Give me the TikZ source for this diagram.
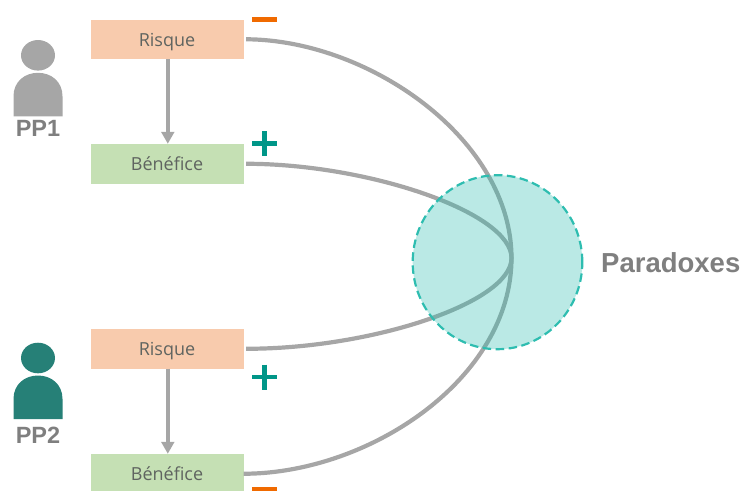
\documentclass[tikz,border=0pt]{standalone}
\usepackage{fontspec}
\setmainfont{Liberation Sans}
\newfontfamily\boxfont{Open Sans}
\usetikzlibrary{arrows.meta,shapes.geometric}
\definecolor{risk}{HTML}{F8CBAD}
\definecolor{gain}{HTML}{C5E0B4}
\definecolor{linegrey}{HTML}{A6A6A6}
\definecolor{labelgrey}{HTML}{7F7F7F}
\definecolor{boxtext}{HTML}{5F6460}
\definecolor{plusteal}{HTML}{009688}
\definecolor{minusorange}{HTML}{F06A00}
\definecolor{persongrey}{HTML}{A6A6A6}
\definecolor{personteal}{HTML}{268077}
\definecolor{circleteal}{HTML}{2EBDB0}
\tikzset{
  riskbox/.style={fill=risk,minimum width=153pt,minimum height=39.5pt,inner xsep=0pt,inner ysep=0pt,text height=13.5pt,text depth=0pt,text=boxtext,font=\boxfont\fontsize{18}{20}\selectfont},
  gainbox/.style={riskbox,fill=gain},
  flow/.style={draw=linegrey,line width=4pt,-{Triangle[length=12pt,width=12.7pt]}},
  curve/.style={draw=linegrey,line width=4.2pt,shorten <=2.5pt},
  ppname/.style={text=labelgrey,font=\bfseries\fontsize{23.5}{26}\selectfont,inner sep=0pt},
  plussign/.style={draw=plusteal,line width=4.5pt},
  minussign/.style={fill=minusorange,draw=none}
}
\newcommand{\personshape}[3]{%
  \fill[#3] (#1,#2) ellipse (17pt and 15.3pt);
  \fill[#3] (#1-24.5,#2+61) -- (#1-24.5,#2+41) .. controls (#1-24.5,#2+26) and (#1-13,#2+17.5) .. (#1,#2+17.5) .. controls (#1+13,#2+17.5) and (#1+24.5,#2+26) .. (#1+24.5,#2+41) -- (#1+24.5,#2+61) -- cycle;
}
\begin{document}
\begin{tikzpicture}[x=1pt,y=-1pt]
\useasboundingbox (0,0) rectangle (743,490);
\clip (0,0) rectangle (743,490);
\node[riskbox] (r1) at (167,39.25) {Risque};
\node[gainbox] (b1) at (167,163.75) {Bénéfice};
\node[riskbox] (r2) at (167,348.75) {Risque};
\node[gainbox] (b2) at (167,473.75) {Bénéfice};
\coordinate (j) at (511.5,258);
\draw[flow] ([xshift=.8pt]r1.south) -- ([xshift=.8pt]b1.north);
\draw[flow] ([xshift=.8pt]r2.south) -- ([xshift=.8pt]b2.north);
\draw[curve] (r1.east) .. controls (370,40) and (511.5,140) .. (j) .. controls (511.5,378) and (370,473.5) .. (b2.east);
\draw[curve] (b1.east) .. controls (370,164) and (511.5,213) .. (j);
\draw[curve] (r2.east) .. controls (370,349) and (511.5,303) .. (j);
\node[ellipse,minimum width=169.6pt,minimum height=174pt,inner sep=0pt] (c) at (497.5,262.2) {};
\fill[circleteal,fill opacity=.33] (c.center) ellipse (84.8pt and 87pt);
\draw[circleteal,line width=2.2pt,dash pattern=on 8.5pt off 4.5pt] (c.center) ellipse (84.8pt and 87pt);
\node[text=labelgrey,font=\bfseries\fontsize{27.5}{30}\selectfont,inner sep=0pt,anchor=west] (p) at (601,263) {Paradoxes};
\personshape{38}{55.3}{persongrey}
\personshape{38}{358}{personteal}
\node[ppname] (n1) at (38,128.5) {PP1};
\node[ppname] (n2) at (38,435) {PP2};
\fill[minussign] (252,17) rectangle (277,22);
\fill[minussign] (252,487) rectangle (277,492);
\draw[plussign] (252,143.5) -- (277,143.5) (264.5,131) -- (264.5,156);
\draw[plussign] (252,377) -- (277,377) (264.5,364.5) -- (264.5,389.5);
\end{tikzpicture}
\end{document}
